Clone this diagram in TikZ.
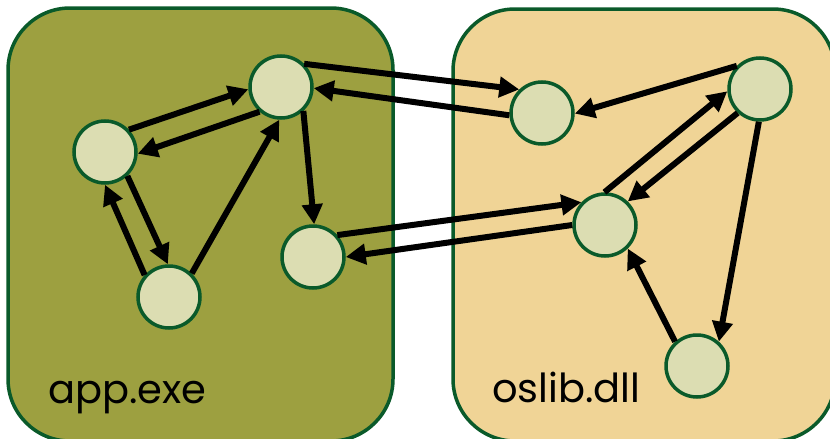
\documentclass[tikz,border=0pt]{standalone}
\usepackage{fontspec}
\setmainfont{Poppins}
\usetikzlibrary{arrows.meta, positioning, backgrounds}
\definecolor{appbg}{RGB}{157,160,64}
\definecolor{libbg}{RGB}{240,212,150}
\definecolor{edgecol}{RGB}{10,90,42}
\definecolor{nodebg}{RGB}{220,221,178}

\begin{document}
\begin{tikzpicture}[
    x=1pt, y=-1pt,
    >={Triangle[length=20pt, width=20pt]},
    % module panels
    panel/.style={
        draw=edgecol,
        line width=3.5pt,
        rounded corners=62pt
    },
    % functions inside a module
    func/.style={
        circle,
        draw=edgecol,
        line width=3.5pt,
        fill=nodebg,
        minimum size=62pt,
        inner sep=0pt
    },
    % calls
    call/.style={
        ->,
        line width=6pt,
        draw=black
    },
    modname/.style={
        font=\fontsize{40}{42}\selectfont,
        text=black,
        anchor=base west,
        inner sep=0pt
    }
]
    \useasboundingbox (0,0) rectangle (830,439);

    % --- 1. modules ---
    \node[panel, fill=appbg, minimum width=385pt, minimum height=433pt] (appbox) at (200.5,224.5) {};
    \node[panel, fill=libbg, minimum width=382pt, minimum height=432pt] (libbox) at (644,225) {};

    \node[modname] (applabel) at (48,403) {app.exe};
    \node[modname] (liblabel) at (492,402) {oslib.dll};

    % --- 2. functions ---
    \node[func] (app1) at (281,87) {};
    \node[func] (app2) at (105,152) {};
    \node[func] (app3) at (169,297) {};
    \node[func] (app4) at (313,257) {};

    \node[func] (lib1) at (542,113) {};
    \node[func] (lib2) at (760,89) {};
    \node[func] (lib3) at (605,225) {};
    \node[func] (lib4) at (697,366) {};

    % --- 3. calls inside app.exe ---
    \draw[call] (app2.43) -- (app1.184);
    \draw[call] (app1.229) -- (app2.357);
    \draw[call] (app2.313) -- (app3.92);
    \draw[call] (app3.138) -- (app2.270);
    \draw[call] (app3.46) -- (app1.267);
    \draw[call] (app1.313) -- (app4.88);

    % --- 4. calls across the boundary ---
    \draw[call] (app1.45) -- (lib1.134);
    \draw[call] (lib1.184) -- (app1.358);
    \draw[call] (app4.42) -- (lib3.136);
    \draw[call] (lib3.180) -- (app4.0);

    % --- 5. calls inside oslib.dll ---
    \draw[call] (lib2.135) -- (lib1.359);
    \draw[call] (lib3.91) -- (lib2.184);
    \draw[call] (lib2.227) -- (lib3.46);
    \draw[call] (lib2.268) -- (lib4.48);
    \draw[call] (lib4.132) -- (lib3.314);

\end{tikzpicture}
\end{document}
